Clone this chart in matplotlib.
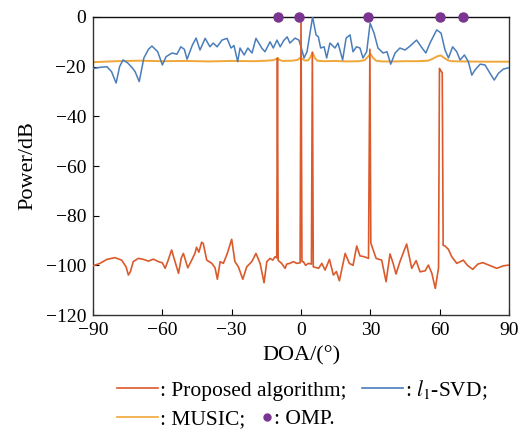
import matplotlib
matplotlib.use("Agg")
import matplotlib.pyplot as plt
from matplotlib.lines import Line2D
import numpy as np

plt.rcParams['font.family'] = ['Liberation Serif', 'DejaVu Serif']
plt.rcParams['mathtext.fontset'] = 'stix'

# spatial spectra, angle in degrees / power in dB
ang_prop = [-90, -87, -84, -80.5, -77.6, -75.7, -74.7, -73.8, -72.6, -70.4, -68.2, -66, -63.9,
            -61.7, -60, -58.8, -57.5, -56, -55, -53, -51.8, -50.9, -49, -47.3, -45.9, -45.2,
            -44.2, -43, -42.3, -40.8, -38.6, -37.2, -36.2, -35, -33.6, -31.9, -30, -28.6,
            -27.1, -25.2, -23.5, -21.3, -19.5, -17.7, -16, -14.8, -13.4, -12.2, -11.2, -10.5,
            -10.2, -9.9, -8.4, -6.9, -6.2, -4.8, -3.3, -1.9, -0.4, 0, 0.4, 1, 2, 3.2, 4.5,
            4.9, 5.3, 7.6, 9, 10.4, 12.3, 14, 15.3, 16.6, 19.1, 20.9, 22.5, 24.1, 25.5, 27.3,
            29.2, 29.8, 30.2, 31, 32.5, 34.9, 36.8, 38.5, 39.8, 41.1, 42.8, 45.7, 47.9, 49.8,
            51.5, 53.7, 55.1, 56.6, 58.1, 59.5, 59.9, 61.1, 61.5, 62.3, 63.8, 65.2, 67.4,
            70.2, 72, 74.3, 76.5, 78.6, 81.5, 84.7, 87.5, 90]
pow_prop = [-100.2, -99.2, -97.6, -96.9, -97.9, -100.6, -103.9, -102.5, -98.5, -97.2, -97.6,
            -98.3, -97.5, -98.5, -99, -101.2, -98, -93.8, -97, -103.2, -97, -95.2, -101, -97.9,
            -95.2, -92.7, -94.7, -90.7, -91.2, -97.9, -99.2, -101, -105.6, -98.5, -99.2, -95.2,
            -89.5, -98.5, -100.6, -105.6, -100.6, -98.5, -95.2, -99.2, -107, -98.5, -97.2,
            -97.9, -96.5, -97, -16.6, -98, -99.2, -101.2, -99.5, -99.2, -98.5, -99.2, -99,
            -0.5, -98.5, -98.5, -100, -99.2, -99.5, -14.2, -100.6, -101.2, -99.2, -101.9,
            -97.6, -103.9, -102.5, -106.2, -95.2, -99.2, -100, -92.2, -96.2, -96.5, -97.2,
            -13, -91, -93.2, -97.2, -97.9, -106.6, -95.4, -99, -103.5, -98.5, -91.4, -101.2,
            -98.1, -102.6, -102.2, -99.9, -103.2, -109.3, -101, -20.7, -22.5, -92, -92.2,
            -93.6, -96.5, -99.2, -97.9, -100, -101.6, -99.5, -98.9, -100, -101.2, -100.2, -99.9]

ang_l1 = [-90, -87, -84, -82, -80, -78.5, -77, -75, -73, -71.8, -70, -68, -66, -64.5, -62,
          -60, -58.4, -55.8, -53.7, -52, -50.5, -49.3, -47, -45.4, -43.7, -41.5, -39.4, -38,
          -36.3, -34.2, -32, -30.3, -29, -27.4, -26.4, -24.6, -23, -21.2, -19.5, -17, -15.6,
          -13.4, -12, -10.4, -9, -7.5, -6, -4.8, -2.6, -0.9, 0.4, 1.3, 2.6, 5, 6.5, 7.5, 8.5,
          10, 11.1, 12.5, 14.7, 16, 18, 19.5, 21.2, 22.5, 24, 25.5, 26.8, 28.4, 29.9, 31.6,
          33.3, 35.5, 37.2, 38.8, 40.7, 42.8, 45, 46.8, 48, 50, 52, 54, 55.8, 58.7, 60.6,
          62.3, 63.8, 65.6, 67.4, 68.8, 70.7, 72.4, 73.9, 75.3, 77.5, 79.6, 81.8, 83.6, 85.4,
          87.5, 90]
pow_l1 = [-20.8, -20.3, -20, -22, -26.6, -20, -17.3, -18.5, -20.5, -22, -26, -16.5, -13,
          -11.7, -14, -19.3, -16, -14.5, -15, -12, -13, -17, -11.3, -8.5, -13.3, -8.6, -12,
          -10.5, -12, -9.3, -8.6, -12.5, -11.5, -18, -12.5, -15.3, -12.5, -14.5, -8.6, -12.5,
          -14, -10, -12.5, -9.3, -12, -9.5, -8, -10.5, -8.5, -9.3, -13.3, -16.5, -14, 0,
          -7.2, -8, -12.5, -12, -16.5, -10.5, -12.5, -10.5, -17.3, -8.5, -7.2, -14, -12,
          -12.5, -16.5, -14, -2.5, -6.5, -12.5, -14.5, -14, -19, -14.5, -12.5, -13.3, -12,
          -11, -9.3, -12, -14.5, -10.5, -5.2, -6.5, -13.3, -16.5, -12, -14, -17.3, -15.3,
          -18, -23.4, -21.3, -19, -19.3, -22.7, -25.4, -22.7, -21, -20.4]

ang_music = [-90, -80, -70, -60, -50, -40, -30, -20, -15, -12, -10.5, -10, -9.5, -8, -4,
             -1.5, -0.5, 0.5, 1.5, 3, 4, 5, 6, 7, 10, 15, 20, 25, 27.5, 29, 30, 31, 32.5,
             35, 40, 45, 50, 55, 57, 59, 60.5, 62, 63.5, 65, 70, 80, 90]
pow_music = [-18.2, -17.8, -17.6, -17.8, -17.7, -17.9, -17.7, -17.8, -17.6, -17.4, -16.8,
             -16.5, -17.2, -17.7, -17.6, -17.3, -16.5, -16.8, -17.5, -17.5, -16.3, -14.3,
             -16.5, -17.6, -17.8, -17.7, -17.9, -17.8, -17.4, -16, -14.8, -16.3, -17.6, -17.9,
             -17.9, -17.8, -17.8, -17.6, -16.8, -15.8, -15.5, -16.5, -17.4, -17.8, -17.9, -18,
             -18]

# OMP picks a discrete support, plotted on the 0 dB line
ang_omp = [-10, -1, 29, 60, 70]
pow_omp = [0, 0, 0, 0, 0]

c_prop = '#DA5A2C'
c_l1 = '#4A7DBA'
c_music = '#F0A73A'
c_omp = '#7A3590'

fig = plt.figure(figsize=(5.27, 4.30), dpi=100)
ax = fig.add_axes([0.1765, 0.2674, 0.7894, 0.6931])

ax.plot(ang_music, pow_music, color=c_music, lw=1.4, zorder=2)
ax.plot(ang_l1, pow_l1, color=c_l1, lw=1.1, zorder=3)
ax.plot(ang_prop, pow_prop, color=c_prop, lw=1.2, zorder=4)
ax.plot(ang_omp, pow_omp, 'o', color=c_omp, ms=6.5, clip_on=False, zorder=6)

ax.set_xlim(-90, 90)
ax.set_ylim(-120, 0)
ax.set_xticks(np.arange(-90, 91, 30))
ax.set_yticks(np.arange(-120, 1, 20))
ax.tick_params(direction='in', labelsize=14, length=4, width=0.8, top=False, right=False, pad=5)
for s in ax.spines.values():
    s.set_linewidth(1.0)
    s.set_color('#333333')
ax.spines['top'].set_color('#111111')

ax.set_xlabel('DOA/(°)', fontsize=16, labelpad=5)
ax.set_ylabel('Power/dB', fontsize=16, labelpad=6)

# legend laid out in two rows underneath the axes
h_prop = Line2D([], [], color=c_prop, lw=1.2)
h_l1 = Line2D([], [], color=c_l1, lw=1.2)
h_music = Line2D([], [], color=c_music, lw=1.2)
h_omp = Line2D([], [], color=c_omp, marker='o', ls='none', ms=5)

kw = dict(frameon=False, fontsize=15.5, loc='center left', borderpad=0, borderaxespad=0,
          handletextpad=0.1)
leg1 = fig.legend([h_prop, h_l1], [': Proposed algorithm;', ': $l_1$-SVD;'], ncol=2,
                  bbox_to_anchor=(0.222, 0.093), handlelength=1.9, columnspacing=0.7, **kw)
leg2 = fig.legend([h_music], [': MUSIC;'], bbox_to_anchor=(0.222, 0.025),
                  handlelength=1.9, **kw)
leg3 = fig.legend([h_omp], [': OMP.'], bbox_to_anchor=(0.499, 0.025),
                  handlelength=0.4, **kw)

fig.savefig('out.png', dpi=100)
